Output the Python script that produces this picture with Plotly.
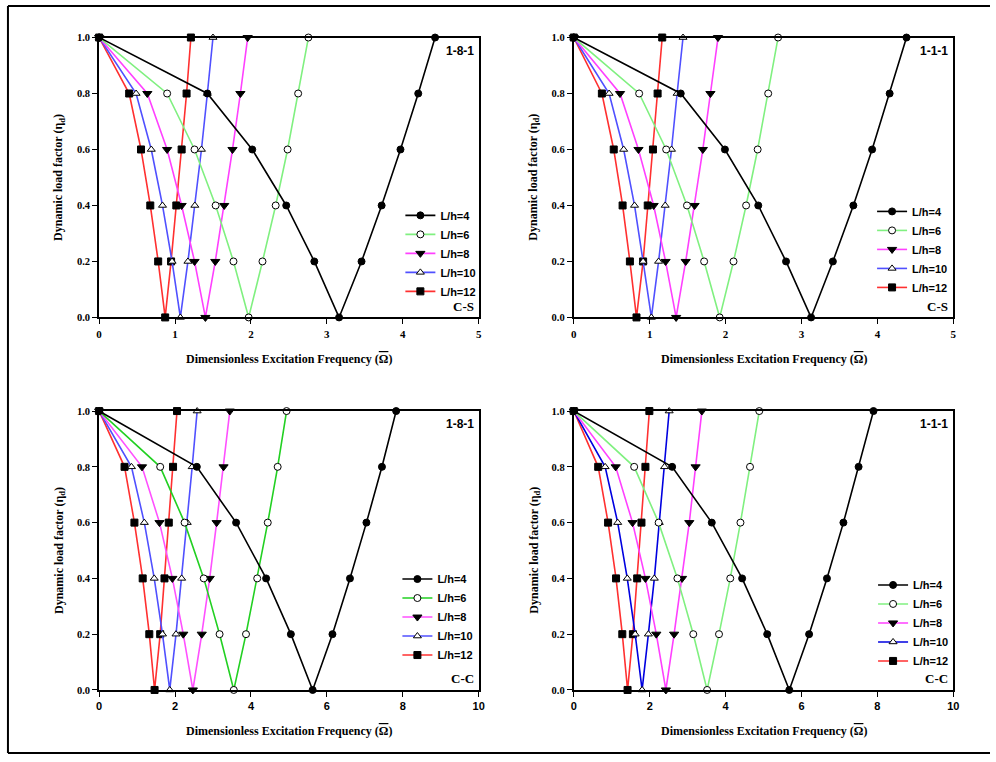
import plotly.graph_objects as go

# ---------------- data ----------------
eta = [1.0, 0.8, 0.6, 0.4, 0.2, 0.0, 0.2, 0.4, 0.6, 0.8, 1.0]
series_names = ["L/h=4", "L/h=6", "L/h=8", "L/h=10", "L/h=12"]

# C-S, 1-8-1
cs181_lh4 = [0, 1.426, 2.017, 2.465, 2.835, 3.161, 3.457, 3.722, 3.970, 4.204, 4.426]
cs181_lh6 = [0, 0.896, 1.257, 1.535, 1.770, 1.970, 2.152, 2.326, 2.483, 2.622, 2.757]
cs181_lh8 = [0, 0.635, 0.896, 1.087, 1.257, 1.400, 1.530, 1.648, 1.757, 1.861, 1.957]
cs181_lh10 = [0, 0.487, 0.687, 0.835, 0.961, 1.070, 1.170, 1.261, 1.348, 1.426, 1.500]
cs181_lh12 = [0, 0.396, 0.552, 0.674, 0.778, 0.870, 0.948, 1.017, 1.087, 1.152, 1.209]

# C-S, 1-1-1
cs111_lh4 = [0, 1.409, 1.991, 2.430, 2.796, 3.126, 3.413, 3.683, 3.930, 4.161, 4.383]
cs111_lh6 = [0, 0.861, 1.217, 1.491, 1.717, 1.922, 2.104, 2.270, 2.422, 2.561, 2.691]
cs111_lh8 = [0, 0.609, 0.852, 1.052, 1.209, 1.348, 1.474, 1.591, 1.700, 1.800, 1.900]
cs111_lh10 = [0, 0.465, 0.657, 0.800, 0.913, 1.022, 1.117, 1.204, 1.287, 1.361, 1.439]
cs111_lh12 = [0, 0.370, 0.526, 0.643, 0.739, 0.826, 0.913, 0.974, 1.043, 1.104, 1.165]

# C-C, 1-8-1
cc181_lh4 = [0, 2.574, 3.609, 4.400, 5.052, 5.626, 6.148, 6.609, 7.043, 7.452, 7.826]
cc181_lh6 = [0, 1.609, 2.252, 2.757, 3.174, 3.548, 3.870, 4.165, 4.443, 4.704, 4.939]
cc181_lh8 = [0, 1.130, 1.591, 1.930, 2.217, 2.470, 2.704, 2.913, 3.096, 3.278, 3.443]
cc181_lh10 = [0, 0.852, 1.191, 1.452, 1.670, 1.861, 2.026, 2.174, 2.322, 2.452, 2.583]
cc181_lh12 = [0, 0.670, 0.930, 1.148, 1.322, 1.461, 1.609, 1.722, 1.835, 1.948, 2.052]

# C-C, 1-1-1
cc111_lh4 = [0, 2.591, 3.635, 4.435, 5.096, 5.678, 6.200, 6.670, 7.104, 7.504, 7.896]
cc111_lh6 = [0, 1.591, 2.235, 2.730, 3.148, 3.513, 3.826, 4.122, 4.391, 4.643, 4.887]
cc111_lh8 = [0, 1.104, 1.548, 1.887, 2.174, 2.426, 2.643, 2.852, 3.043, 3.209, 3.374]
cc111_lh10 = [0, 0.826, 1.157, 1.409, 1.617, 1.800, 1.965, 2.122, 2.252, 2.391, 2.513]
cc111_lh12 = [0, 0.643, 0.904, 1.113, 1.278, 1.417, 1.557, 1.670, 1.783, 1.887, 1.991]

panel_series = [
    [cs181_lh4, cs181_lh6, cs181_lh8, cs181_lh10, cs181_lh12],
    [cs111_lh4, cs111_lh6, cs111_lh8, cs111_lh10, cs111_lh12],
    [cc181_lh4, cc181_lh6, cc181_lh8, cc181_lh10, cc181_lh12],
    [cc111_lh4, cc111_lh6, cc111_lh8, cc111_lh10, cc111_lh12],
]
panel_layer = ["1-8-1", "1-1-1", "1-8-1", "1-1-1"]
panel_bc = ["C-S", "C-S", "C-C", "C-C"]
x_max = [5, 5, 10, 10]
x_ticks_cs = [0, 1, 2, 3, 4, 5]
x_ticks_cc = [0, 2, 4, 6, 8, 10]
y_ticks = [0.0, 0.2, 0.4, 0.6, 0.8, 1.0]

# ---------------- styles ----------------
W, H = 996, 762
SERIF = "Liberation Serif"
SANS = "Liberation Sans"

line_colors = [
    ["#000000", "#80F080", "#FF40FF", "#5050FF", "#FF3030"],
    ["#000000", "#80F080", "#FF40FF", "#5050FF", "#FF3030"],
    ["#000000", "#22D022", "#FF50FF", "#5050FF", "#FF3030"],
    ["#000000", "#80F080", "#FF40FF", "#0000E0", "#FF3030"],
]
marker_sym = ["circle", "circle", "triangle-down", "triangle-up", "square"]
marker_fill = ["black", "white", "black", "white", "black"]

# pixel boxes (left, right, top, bottom)
boxes = [(97, 480, 33, 317), (576, 959, 33, 317), (97, 480, 412, 695), (576, 959, 412, 695)]

def px(x):
    return x / W

def py(y):
    return 1 - y / H

fig = go.Figure()
legend_names = ["legend", "legend2", "legend3", "legend4"]

for p in range(4):
    suffix = "" if p == 0 else str(p + 1)
    for s in reversed(range(5)):
        fig.add_trace(go.Scatter(
            x=panel_series[p][s], y=eta,
            mode="lines+markers",
            name=series_names[s],
            xaxis="x" + suffix, yaxis="y" + suffix,
            legend=legend_names[p],
            line=dict(color=line_colors[p][s], width=1.6),
            marker=dict(
                symbol=marker_sym[s],
                size=7 if s != 2 else 8,
                color=marker_fill[s],
                line=dict(color="black", width=1),
            ),
            cliponaxis=False,
        ))

layout = dict(
    width=W, height=H,
    margin=dict(l=0, r=0, t=0, b=0),
    paper_bgcolor="white", plot_bgcolor="white",
    showlegend=True,
    annotations=[], shapes=[],
)

legend_pos = [(401, 252), (877, 248), (398, 621), (878, 627)]

OMEGA_BAR = "<span style='text-decoration:overline'>\u03A9</span>"

for p in range(4):
    l, r, t, b = boxes[p]
    suffix = "" if p == 0 else str(p + 1)
    xt = x_ticks_cs if x_max[p] == 5 else x_ticks_cc
    xfont = dict(family=SERIF if x_max[p] == 5 else SANS, size=11, color="black", weight="bold")
    layout["xaxis" + suffix] = dict(
        domain=[px(l), px(r)], range=[0, x_max[p]], anchor="y" + suffix,
        tickmode="array", tickvals=xt, ticktext=[str(v) for v in xt],
        ticks="outside", ticklen=5, tickwidth=1, tickcolor="black",
        showline=True, mirror=True, linecolor="black", linewidth=2,
        showgrid=False, zeroline=False, tickfont=xfont,
    )
    layout["yaxis" + suffix] = dict(
        domain=[py(b), py(t)], range=[0, 1], anchor="x" + suffix,
        tickmode="array", tickvals=y_ticks, ticktext=["%.1f" % v for v in y_ticks],
        ticks="outside", ticklen=5, tickwidth=1, tickcolor="black",
        showline=True, mirror=True, linecolor="black", linewidth=2,
        showgrid=False, zeroline=False,
        tickfont=dict(family=SERIF, size=10.5, color="black", weight="bold"),
    )
    lx, ly = legend_pos[p]
    layout[legend_names[p]] = dict(
        x=px(lx), y=py(ly), xanchor="left", yanchor="middle",
        xref="paper", yref="paper",
        bgcolor="rgba(0,0,0,0)", borderwidth=0,
        traceorder="reversed", itemwidth=30,
        font=dict(family=SANS, size=11, color="black", weight="bold"),
    )
    layout["annotations"].append(dict(
        text="<b>%s</b>" % panel_layer[p], xref="x%s domain" % suffix, yref="y%s domain" % suffix,
        x=1, y=1, xanchor="right", yanchor="middle", xshift=-3, yshift=-13,
        showarrow=False, font=dict(family=SANS, size=12, color="black"),
    ))
    layout["annotations"].append(dict(
        text="<b>%s</b>" % panel_bc[p], xref="x%s domain" % suffix, yref="y%s domain" % suffix,
        x=1, y=0, xanchor="right", yanchor="middle", xshift=-3, yshift=11,
        showarrow=False, font=dict(family=SERIF, size=13, color="black"),
    ))
    layout["annotations"].append(dict(
        text="<b>Dimensionless Excitation Frequency (" + OMEGA_BAR + ")</b>",
        xref="paper", yref="paper", x=px((l + r) / 2), y=py(b + 42),
        xanchor="center", yanchor="middle", showarrow=False,
        font=dict(family=SERIF, size=12, color="black"),
    ))
    layout["annotations"].append(dict(
        text="<b>Dynamic load factor (\u03B7<sub>d</sub>)</b>",
        xref="paper", yref="paper", x=px(l - 40), y=py((t + b) / 2),
        xanchor="center", yanchor="middle", showarrow=False, textangle=-90,
        font=dict(family=SERIF, size=12, color="black"),
    ))

# outer frame (left, top, bottom)
frame = dict(color="black", width=2)
layout["shapes"] += [
    dict(type="line", xref="paper", yref="paper", x0=px(5), x1=px(5), y0=py(759), y1=py(1), line=frame),
    dict(type="line", xref="paper", yref="paper", x0=px(5), x1=1, y0=py(1), y1=py(1), line=frame),
    dict(type="line", xref="paper", yref="paper", x0=px(5), x1=1, y0=py(759), y1=py(759), line=frame),
]

fig.update_layout(**layout)
fig.write_html("out.html")
